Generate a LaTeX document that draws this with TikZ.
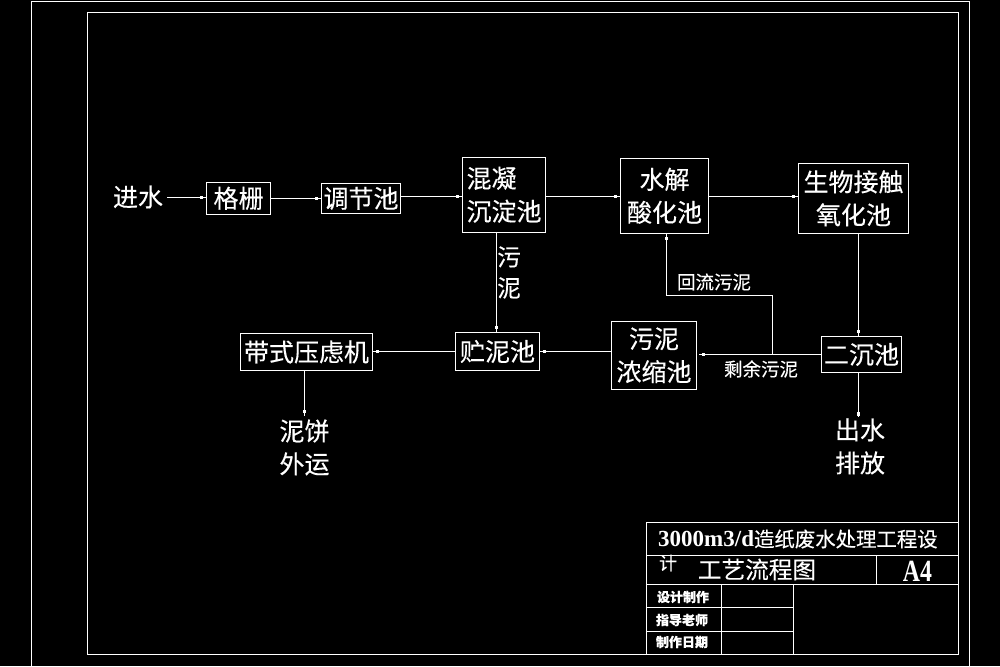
\documentclass[tikz,border=0pt]{standalone}
\usepackage{fontspec}
\usetikzlibrary{decorations.markings,calc}
\setmainfont{Noto Sans CJK SC}[FakeBold=0.25]
\newfontfamily\latinf{Liberation Serif}
\definecolor{wt}{RGB}{255,255,255}
\tikzset{
  box/.style={draw=wt,line width=1pt,rectangle,inner sep=0pt,text=wt,align=center,font=\fontsize{25}{33}\selectfont},
  lab/.style={text=wt,inner sep=0pt,align=center,font=\fontsize{25}{33}\selectfont},
  small/.style={text=wt,inner sep=0pt,font=\fontsize{18.5}{20}\selectfont},
  cell/.style={text=wt,inner sep=0pt,font=\fontsize{13}{15}\bfseries\selectfont},
  thin line/.style={draw=wt,line width=0.9pt},
  flow/.style={thin line,postaction={decorate},decoration={markings,mark=at position #1 with {\fill[wt] (-1.7pt,-1.7pt) rectangle (1.7pt,1.7pt);}}},
  flow/.default={-4.5pt}
}
\begin{document}
\begin{tikzpicture}[x=1pt,y=-1pt]
\useasboundingbox (0,0) rectangle (1000,666);
\fill[black] (0,0) rectangle (1000,666);
% frames
\coordinate (obl) at (31.3,666);
\coordinate (ol) at (31.3,1.3);
\coordinate (or) at (969.3,1.3);
\coordinate (ob) at (969.3,666);
\draw[thin line] (obl) -- (ol) -- (or) -- (ob);
\node[draw=wt,line width=1pt,rectangle,inner sep=0pt,minimum width=871pt,minimum height=642pt] (frame) at (522.8,333.3) {};
% flow boxes
\node[box,minimum width=64.4pt,minimum height=32pt] (gs) at (238.5,198.3) {格栅};
\node[box,minimum width=79.4pt,minimum height=30pt] (tj) at (361,198.3) {调节池};
\node[box,minimum width=83.4pt,minimum height=75pt] (hn) at (504,194.8) {\makebox[3em][l]{混凝}\\沉淀池};
\node[box,minimum width=88.4pt,minimum height=75pt] (sj) at (664.5,195.8) {水解\\酸化池};
\node[box,minimum width=110.4pt,minimum height=70pt] (sw) at (853.5,198.3) {生物接触\\氧化池};
\node[box,minimum width=84.4pt,minimum height=38.4pt] (cn) at (497.5,351.5) {贮泥池};
\node[box,minimum width=132.4pt,minimum height=37.4pt] (dy) at (306.5,352) {带式压虑机};
\node[box,minimum width=85.4pt,minimum height=68pt] (wn) at (654,355.3) {污泥\\浓缩池};
\node[box,minimum width=80.4pt,minimum height=36.4pt] (ec) at (861.5,354.5) {二沉池};
% labels
\node[lab] (js) at (138,197) {进水};
\node[lab,font=\fontsize{23.5}{31}\selectfont] (wnv) at (509,272.5) {污\\泥};
\node[small] (hl) at (714,282) {回流污泥};
\node[small] (sy) at (761,369) {剩余污泥};
\node[lab] (nb) at (304.5,447.5) {泥饼\\外运};
\node[lab] (cs) at (860,446.5) {出水\\排放};
% free ends
\coordinate (je) at (167,197.3);
\coordinate (nbt) at (304.3,416);
\coordinate (cst) at (858.3,417);
\coordinate (hlc) at (772.7,354.3);
% connectors
\draw[flow] (je) -- (gs.west |- je);
\draw[flow] (gs.east |- 0,198.3) -- (tj.west |- 0,198.3);
\draw[flow] (tj.east |- 0,196.3) -- (hn.west |- 0,196.3);
\draw[flow] (hn.east |- 0,196.3) -- (sj.west |- 0,196.3);
\draw[flow] (sj.east |- 0,196.3) -- (sw.west |- 0,196.3);
\draw[flow] (858.3,0 |- sw.south) -- (858.3,0 |- ec.north);
\draw[flow] (496.7,0 |- hn.south) -- (496.7,0 |- cn.north);
\draw[flow=-4pt] (cn.west |- 0,351.3) -- (dy.east |- 0,351.3);
\draw[flow=-4pt] (wn.west |- 0,351.3) -- (cn.east |- 0,351.3);
\draw[flow=-4.5pt] (ec.west |- hlc) -- ([xshift=1.6pt]wn.east |- hlc);
\draw[flow] (hlc) -- (772.7,295) -- (666.3,295) -- (666.3,0 |- sj.south);
\draw[flow] (dy.south -| nbt) -- (nbt);
\draw[flow=-3pt] (ec.south -| cst) -- (cst);
% title block
\node[draw=wt,line width=1pt,rectangle,inner sep=0pt,minimum width=312pt,minimum height=131.6pt] (tb) at (802.3,588.5) {};
\coordinate (r2) at (0,555.7);
\coordinate (r3) at (0,584.3);
\coordinate (r4) at (0,607.3);
\coordinate (r5) at (0,631.3);
\coordinate (c1) at (876.7,0);
\coordinate (c2) at (721.7,0);
\coordinate (c3) at (793.7,0);
\draw[thin line] (tb.west |- r2) -- (tb.east |- r2);
\draw[thin line] (tb.west |- r3) -- (tb.east |- r3);
\draw[thin line] (tb.west |- r4) -- (c3 |- r4);
\draw[thin line] (tb.west |- r5) -- (c3 |- r5);
\draw[thin line] (c1 |- r2) -- (c1 |- r3);
\draw[thin line] (c2 |- r3) -- (c2 |- tb.south);
\draw[thin line] (c3 |- r3) -- (c3 |- tb.south);
\node[text=wt,inner sep=0pt,anchor=west,font=\fontsize{20.4}{22}\selectfont] (t1) at (658,539) {{\latinf\bfseries\fontsize{23}{24}\selectfont 3000m3/d}造纸废水处理工程设};
\node[text=wt,inner sep=0pt,font=\fontsize{18}{20}\selectfont] (t2) at (668,563) {计};
\node[text=wt,inner sep=0pt,font=\fontsize{23.6}{26}\selectfont] (t3) at (757,569.5) {工艺流程图};
\node[text=wt,inner sep=0pt] (t4) at (917.5,571) {\scalebox{0.85}[1.1]{\latinf\bfseries\fontsize{28}{30}\selectfont A4}};
\node[cell] (c11) at (683,597) {设计制作};
\node[cell] (c21) at (682,620) {指导老师};
\node[cell] (c31) at (682,642) {制作日期};
\end{tikzpicture}
\end{document}
